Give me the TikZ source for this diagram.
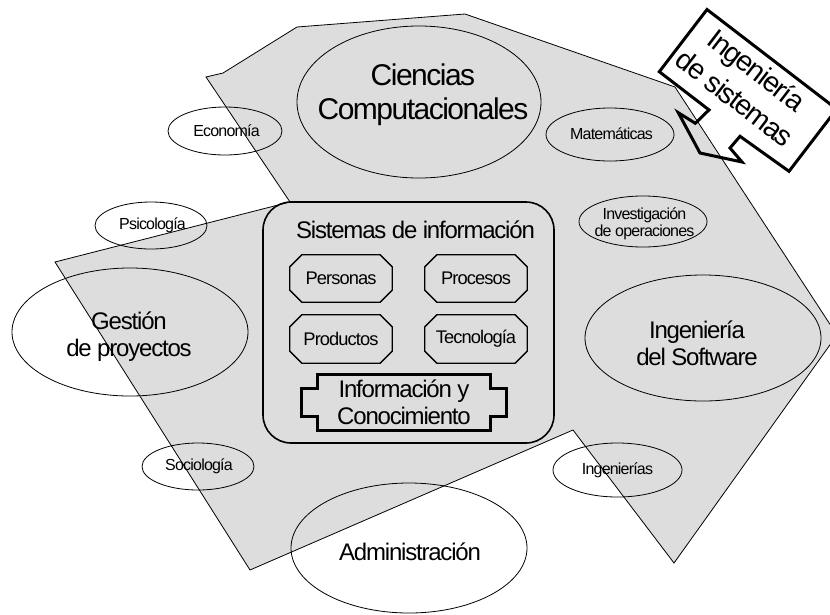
\documentclass[tikz,border=0pt]{standalone}
\usepackage{fontspec}
\setmainfont[LetterSpace=-5]{Liberation Sans}
\usetikzlibrary{shapes.geometric,calc}
\definecolor{polyfill}{RGB}{221,221,221}
\newcommand\fszHuge{\fontsize{30pt}{34pt}\selectfont}
\newcommand\fszBig{\fontsize{24pt}{27pt}\selectfont}
\newcommand\fszMid{\fontsize{18.3pt}{21pt}\selectfont}
\newcommand\fszSmall{\fontsize{16pt}{17pt}\selectfont}
\newcommand\fszCall{\fontsize{28.5pt}{35.5pt}\selectfont}
\tikzset{
  ell/.style={draw, ellipse, line width=0.8pt, inner sep=0pt},
  lbl/.style={align=center, inner sep=0pt},
  boxlbl/.style={inner sep=0pt, font=\fszMid},
  octline/.style={draw, line width=1.3pt, line join=miter},
  plaqline/.style={draw, line width=3pt, line join=miter},
  callline/.style={draw, line width=3pt, line join=miter},
}
\newcommand\octbox[2]{%
  \draw[octline] ([xshift=#2]#1.north west) -- ([xshift=-#2]#1.north east)
    -- ([yshift=-#2]#1.north east) -- ([yshift=#2]#1.south east)
    -- ([xshift=-#2]#1.south east) -- ([xshift=#2]#1.south west)
    -- ([yshift=#2]#1.south west) -- ([yshift=-#2]#1.north west) -- cycle;}
\begin{document}
\begin{tikzpicture}[x=1pt,y=-1pt]
\useasboundingbox (0,0) rectangle (830,614);
\clip (0,0) rectangle (830,614);
\fill[white] (0,0) rectangle (830,614);
% grey field
\draw[fill=polyfill, line width=0.8pt, line join=miter]
  (206,77) -- (223,73) -- (297,27) -- (465,14) -- (675,87) -- (837,335)
  -- (674,563) -- (573,430) -- (250,570) -- (55,262) -- (290,202) -- cycle;
% ellipses
\node[ell, minimum width=244pt, minimum height=152pt] (cc) at (419,102) {};
\node[lbl, font=\fszHuge] (cct) at (423,95) {Ciencias\\Computacionales};
\node[ell, minimum width=114pt, minimum height=48pt] (eco) at (225,131) {};
\node[lbl, font=\fszSmall] (ecot) at (226.5,131) {Economía};
\node[ell, minimum width=112pt, minimum height=47pt] (psi) at (151,225.5) {};
\node[lbl, font=\fszSmall] (psit) at (152.5,225) {Psicología};
\node[ell, minimum width=236pt, minimum height=128pt] (gp) at (130,332) {};
\node[lbl, font=\fszBig] (gpt) at (129,336.5) {Gestión\\de proyectos};
\node[ell, minimum width=128pt, minimum height=53pt] (mat) at (610,134.5) {};
\node[lbl, font=\fszSmall] (matt) at (611.5,134) {Matemáticas};
\node[ell, minimum width=128pt, minimum height=51pt] (io) at (643,221.5) {};
\node[lbl, font=\fszSmall] (iot) at (644.5,223.5) {Investigación\\de operaciones};
\node[ell, minimum width=236pt, minimum height=126pt] (isw) at (703,338) {};
\node[lbl, font=\fszBig] (iswt) at (697,343.5) {Ingeniería\\del Software};
\node[ell, minimum width=129pt, minimum height=54pt] (ing) at (617.5,470) {};
\node[lbl, font=\fszSmall] (ingt) at (617.5,470) {Ingenierías};
\node[ell, minimum width=112pt, minimum height=47pt] (soc) at (198,466.5) {};
\node[lbl, font=\fszSmall] (soct) at (199,466) {Sociología};
\node[ell, minimum width=236pt, minimum height=130pt] (adm) at (409,548) {};
\node[lbl, font=\fszBig] (admt) at (410,552) {Administración};
% information systems box
\node[draw, rounded corners=28pt, line width=1.6pt, minimum width=291pt,
      minimum height=241pt, inner sep=0pt] (si) at (408.5,322.5) {};
\node[lbl, font=\fszBig] (sit) at (415.5,230) {Sistemas de información};
\node[boxlbl, minimum width=102pt, minimum height=47pt] (pers) at (341,278.5) {Personas};
\node[boxlbl, minimum width=102pt, minimum height=47pt] (proc) at (476,278.5) {Procesos};
\node[boxlbl, minimum width=102pt, minimum height=48pt] (prod) at (341,339) {Productos};
\node[boxlbl, minimum width=102pt, minimum height=48pt] (tecn) at (476,339) {Tecnología};
\octbox{pers}{12pt}
\octbox{proc}{12pt}
\octbox{prod}{12pt}
\octbox{tecn}{12pt}
\node[lbl, font=\fszBig, minimum width=172pt, minimum height=55pt] (infc) at (404,402.5)
  {Información y\\Conocimiento};
\draw[plaqline] (infc.north west) -- (infc.north east)
  -- ([yshift=-14pt]infc.north east) -- ([xshift=16pt,yshift=-14pt]infc.north east)
  -- ([xshift=16pt,yshift=14pt]infc.south east) -- ([yshift=14pt]infc.south east)
  -- (infc.south east) -- (infc.south west)
  -- ([yshift=14pt]infc.south west) -- ([xshift=-16pt,yshift=14pt]infc.south west)
  -- ([xshift=-16pt,yshift=-14pt]infc.north west) -- ([yshift=-14pt]infc.north west)
  -- cycle;
% callout
\coordinate (cL) at (659.3,71.7);
\coordinate (cT) at (707,9.5);
\coordinate (cR) at (836.7,109.1);
\coordinate (cB) at (789,171.3);
\coordinate (cTip) at (678.3,112.7);
\draw[callline] (cL) -- (cT) -- (cR) -- (cB) -- (740,136.3) -- (730,148) -- (742,162)
  -- (700,153) -- (cTip) -- (695.3,123.3) -- (709,109.9) -- cycle;
\node[lbl, font=\fszCall, rotate=-37.5] (isys) at (746,84) {Ingeniería\\de sistemas};
\end{tikzpicture}
\end{document}
